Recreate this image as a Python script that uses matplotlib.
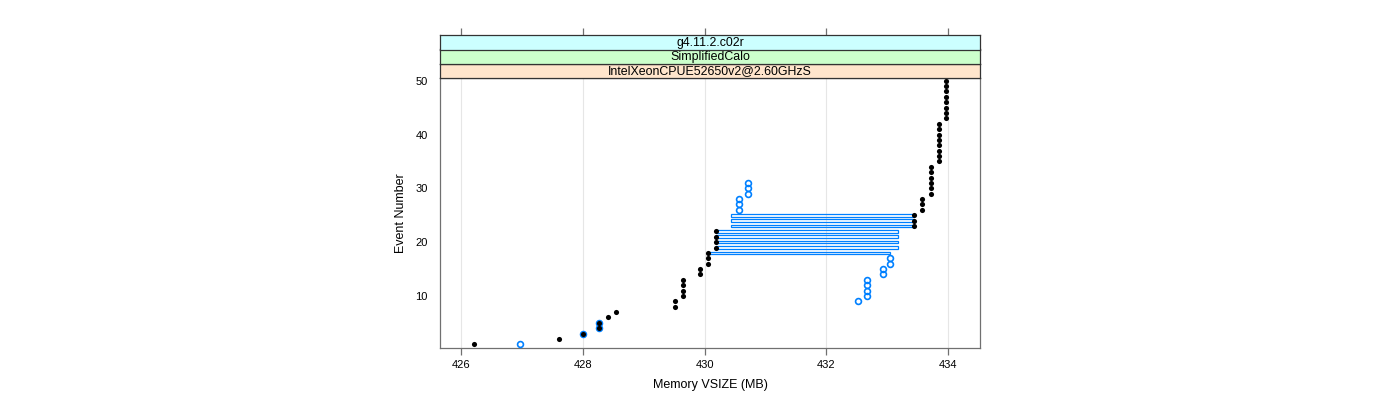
import numpy as np
import matplotlib.pyplot as plt
from matplotlib.patches import Rectangle

plt.rcParams['font.family'] = ['Liberation Sans', 'DejaVu Sans']

# black series (one point per event)
black_events = list(range(1, 51))
black_vsize = [426.22, 427.61, 428.00, 428.27, 428.27, 428.41, 428.54, 429.51, 429.51, 429.65,
               429.65, 429.65, 429.65, 429.92, 429.92, 430.05, 430.05, 430.05, 430.19, 430.19,
               430.19, 430.19, 433.44, 433.44, 433.44, 433.57, 433.57, 433.57, 433.71, 433.71,
               433.71, 433.71, 433.71, 433.71, 433.85, 433.85, 433.85, 433.85, 433.85, 433.85,
               433.85, 433.85, 433.97, 433.97, 433.97, 433.97, 433.97, 433.97, 433.97, 433.97]

# blue series
blue_events = [1, 3, 4, 5, 9, 10, 11, 12, 13, 14, 15, 16, 17,
               18, 19, 20, 21, 22, 23, 24, 25, 26, 27, 28, 29, 30, 31]
blue_vsize = [426.97, 428.00, 428.27, 428.27, 432.52, 432.66, 432.66, 432.66, 432.66,
              432.92, 432.92, 433.05, 433.05, 433.05, 433.18, 433.18, 433.18, 433.18,
              430.44, 430.44, 430.44, 430.57, 430.57, 430.57, 430.71, 430.71, 430.71]

# events where the two series are joined by a bar
bar_events = [18, 19, 20, 21, 22, 23, 24, 25]

strips = ['g4.11.2.c02r', 'SimplifiedCalo', 'IntelXeonCPUE52650v2@2.60GHzS']
strip_colors = ['#ccffff', '#ccffcc', '#ffe5cc']

blue = '#0080ff'

fig = plt.figure(figsize=(14, 4), dpi=100)
ax = fig.add_axes([440/1400, 1-348/400, 540/1400, 270/400])

bmap = dict(zip(black_events, black_vsize))
umap = dict(zip(blue_events, blue_vsize))
for e in bar_events:
    x0 = min(bmap[e], umap[e])
    x1 = max(bmap[e], umap[e])
    ax.add_patch(Rectangle((x0, e - 0.25), x1 - x0, 0.5, facecolor='none',
                           edgecolor=blue, lw=0.9, zorder=2))

pt_events = [e for e in blue_events if e not in bar_events]
pt_vsize = [umap[e] for e in pt_events]
ax.plot(pt_vsize, pt_events, 'o', mfc='none', mec=blue, ms=4.2, mew=1.2, zorder=3)
ax.plot(black_vsize, black_events, 'o', color='black', ms=3.7, mew=0, zorder=4)

ax.set_xlim(425.655, 434.52)
ax.set_ylim(0.33, 50.5)
ax.set_xticks([426, 428, 430, 432, 434])
ax.set_yticks([10, 20, 30, 40, 50])
for x in [426, 428, 430, 432, 434]:
    ax.axvline(x, color='#e6e6e6', lw=0.8, zorder=0)

for s in ax.spines.values():
    s.set_color('#707070')
    s.set_linewidth(0.9)
ax.tick_params(axis='x', direction='out', length=5, width=0.9, color='#707070',
               labelsize=8, pad=4)
ax.tick_params(axis='y', length=0, labelsize=8, pad=9)
ax.set_xlabel('Memory VSIZE (MB)', fontsize=9, labelpad=6)
ax.set_ylabel('Event Number', fontsize=9, labelpad=6)

# strips on top
strip_h = 14.4 / 400
for i, (txt, col) in enumerate(zip(strips[::-1], strip_colors[::-1])):
    y0 = 1 - 78.3/400 + i * strip_h
    sax = fig.add_axes([440/1400, y0, 540/1400, strip_h])
    sax.set_facecolor(col)
    sax.set_xlim(425.655, 434.52)
    sax.set_xticks([])
    sax.set_yticks([])
    for s in sax.spines.values():
        s.set_color('#333333')
        s.set_linewidth(0.9)
    sax.text(0.5, 0.47, txt, ha='center', va='center', fontsize=8.9,
             transform=sax.transAxes)
    if i == 2:
        sax.set_xticks([426, 428, 430, 432, 434])
        sax.tick_params(axis='x', bottom=False, top=True, labelbottom=False,
                        direction='out', length=5, width=0.9, color='#707070')

fig.savefig('out.png', dpi=100)
